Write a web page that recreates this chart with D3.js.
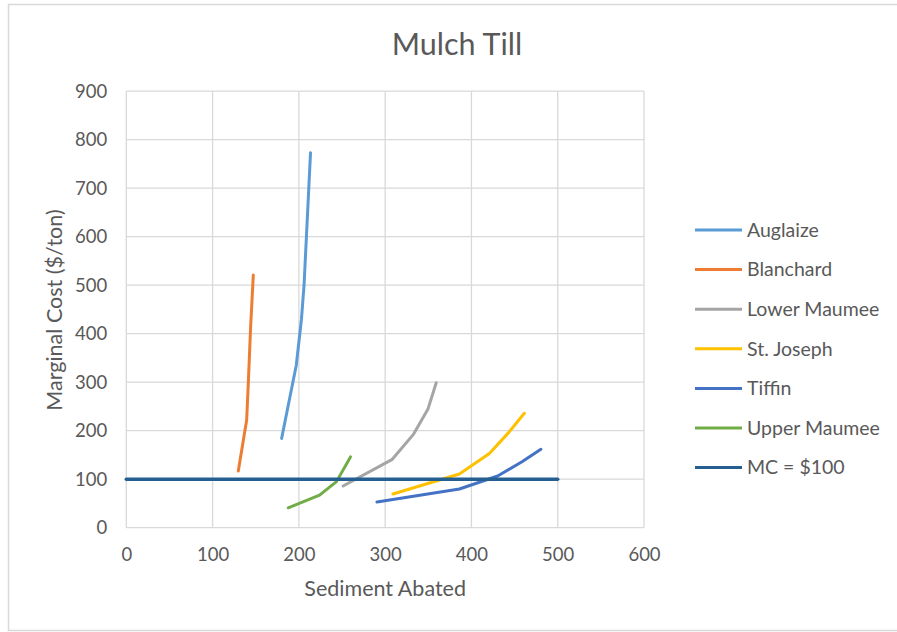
<!DOCTYPE html>
<html>
<head>
<meta charset="utf-8">
<script src="https://cdn.jsdelivr.net/npm/d3@7"></script>
<style>
  html, body { margin: 0; padding: 0; background: #fff; }
  svg { display: block; font-family: Lato, "Open Sans", sans-serif; }
</style>
</head>
<body>
<svg id="chart" width="897" height="632"></svg>
<script>
// Marginal cost curves per watershed: [sediment abated, marginal cost $/ton]
const auglaize     = [[180, 184], [197, 335], [203, 430], [206, 500], [213.5, 773]];
const blanchard    = [[129.8, 117], [139.5, 222], [141.4, 298], [144.1, 414], [147.2, 521]];
const lowerMaumee  = [[251.3, 86], [308.3, 141], [333, 193], [349.5, 244], [359.2, 299]];
const stJoseph     = [[309, 69.5], [386.1, 110.7], [420.8, 153], [443.1, 196], [461.3, 236]];
const tiffin       = [[290.5, 53], [386.1, 79.8], [430.4, 106.6], [458.6, 136], [480.5, 161.6]];
const upperMaumee  = [[187.6, 41], [224, 67], [243.6, 95], [259.8, 146]];
const mcThreshold  = [[0, 100], [500, 100]];

const seriesNames  = ["Auglaize", "Blanchard", "Lower Maumee", "St. Joseph", "Tiffin", "Upper Maumee", "MC = $100"];
const seriesColors = ["#5b9bd5", "#ed7d31", "#a5a5a5", "#ffc000", "#4472c4", "#70ad47", "#255e91"];
const seriesData   = [auglaize, blanchard, lowerMaumee, stJoseph, tiffin, upperMaumee, mcThreshold];

const xTicks = [0, 100, 200, 300, 400, 500, 600];
const yTicks = [0, 100, 200, 300, 400, 500, 600, 700, 800, 900];

const svg = d3.select("#chart");
const textColor = "#595959";
const gridColor = "#d9d9d9";

// outer chart frame
svg.append("rect")
  .attr("x", 8.5).attr("y", 4.5)
  .attr("width", 895).attr("height", 626)
  .attr("fill", "#fff")
  .attr("stroke", gridColor).attr("stroke-width", 1.5);

const plot = { left: 126.3, right: 644, top: 91.2, bottom: 527.7 };

const x = d3.scaleLinear().domain([0, 600]).range([plot.left, plot.right]);
const y = d3.scaleLinear().domain([0, 900]).range([plot.bottom, plot.top]);

// gridlines
const grid = svg.append("g");
grid.selectAll("line.h").data(yTicks).join("line")
  .attr("x1", plot.left).attr("x2", plot.right)
  .attr("y1", d => y(d)).attr("y2", d => y(d))
  .attr("stroke", gridColor).attr("stroke-width", 1.3);
grid.selectAll("line.v").data(xTicks).join("line")
  .attr("y1", plot.top).attr("y2", plot.bottom)
  .attr("x1", d => x(d)).attr("x2", d => x(d))
  .attr("stroke", gridColor).attr("stroke-width", 1.3);

// axes (labels only; the grid draws the frame)
const xAxis = svg.append("g")
  .attr("transform", `translate(0,${plot.bottom})`)
  .call(d3.axisBottom(x).tickValues(xTicks).tickSize(0).tickPadding(20));
const yAxis = svg.append("g")
  .attr("transform", `translate(${plot.left},0)`)
  .call(d3.axisLeft(y).tickValues(yTicks).tickSize(0).tickPadding(19));
[xAxis, yAxis].forEach(a => {
  a.select(".domain").remove();
  a.selectAll("text")
    .attr("fill", textColor)
    .style("font-size", "18.5px")
    .style("font-family", "Lato, sans-serif");
});

// series lines
const line = d3.line().x(d => x(d[0])).y(d => y(d[1]));
svg.append("g").selectAll("path").data(seriesData).join("path")
  .attr("d", line)
  .attr("fill", "none")
  .attr("stroke", (d, i) => seriesColors[i])
  .attr("stroke-width", (d, i) => i === 6 ? 3.5 : 3)
  .attr("stroke-linecap", "round")
  .attr("stroke-linejoin", "round");

// title
svg.append("text")
  .attr("x", 457).attr("y", 55)
  .attr("text-anchor", "middle")
  .attr("fill", textColor)
  .style("font-size", "30.5px")
  .text("Mulch Till");

// axis titles
svg.append("text")
  .attr("x", (plot.left + plot.right) / 2).attr("y", 596)
  .attr("text-anchor", "middle")
  .attr("fill", textColor)
  .style("font-size", "21.5px")
  .text("Sediment Abated");

svg.append("text")
  .attr("transform", "translate(62,310) rotate(-90)")
  .attr("text-anchor", "middle")
  .attr("fill", textColor)
  .style("font-size", "21.5px")
  .text("Marginal Cost ($/ton)");

// legend
const legend = svg.append("g");
const rowY = i => 230 + i * 39.6;
legend.selectAll("line").data(seriesNames).join("line")
  .attr("x1", 695).attr("x2", 742)
  .attr("y1", (d, i) => rowY(i)).attr("y2", (d, i) => rowY(i))
  .attr("stroke", (d, i) => seriesColors[i])
  .attr("stroke-width", 3);
legend.selectAll("text").data(seriesNames).join("text")
  .attr("x", 747).attr("y", (d, i) => rowY(i))
  .attr("dy", "0.35em")
  .attr("fill", textColor)
  .style("font-size", "19.5px")
  .text(d => d);
</script>
</body>
</html>
